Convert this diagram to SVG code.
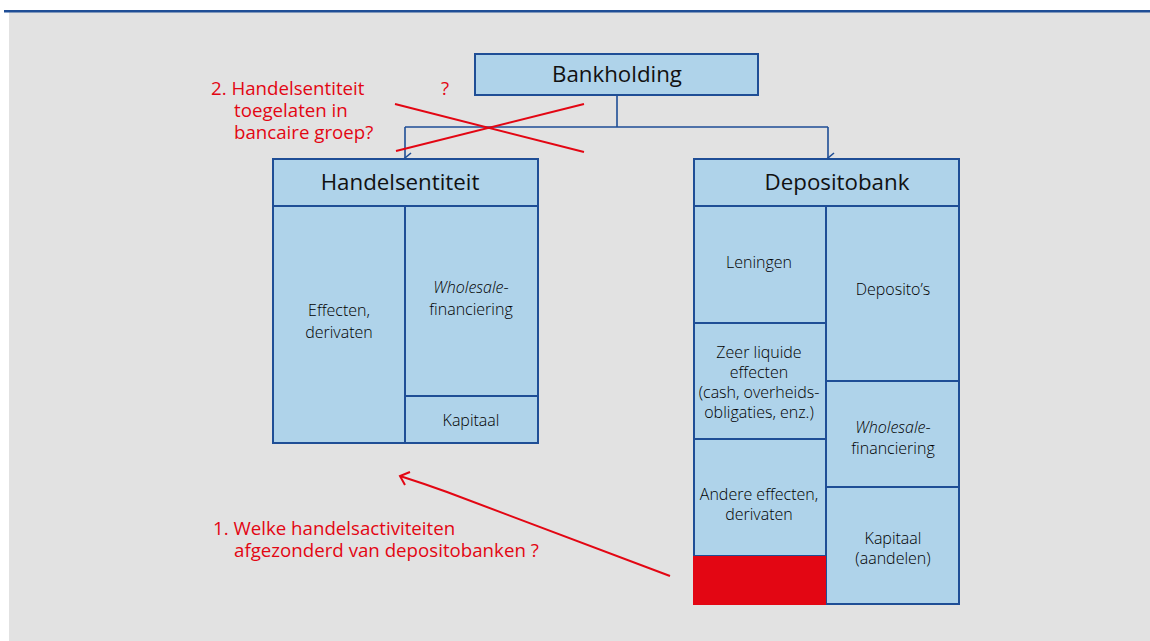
<svg xmlns="http://www.w3.org/2000/svg" width="1150" height="641" viewBox="0 0 1150 641">
<style>
.box{fill:#afd3ea;stroke:#1f4e96;stroke-width:2}
.div{stroke:#1f4e96;stroke-width:2;fill:none}
.hdr{font-family:"Open Sans","Noto Sans",sans-serif;font-size:22.3px;fill:#111;text-anchor:middle}
.cell{font-family:"Open Sans","Noto Sans",sans-serif;font-size:16px;font-weight:300;fill:#000;text-anchor:middle}
.red{font-family:"Open Sans","Noto Sans",sans-serif;font-size:18.7px;fill:#e30613}
.conn{stroke:#1f4e96;stroke-width:1.6;fill:none}
.rl{stroke:#e30613;stroke-width:2;fill:none}
</style>
<defs>
<marker id="ab" markerWidth="12" markerHeight="10" refX="6" refY="8" orient="auto" markerUnits="userSpaceOnUse" viewBox="0 0 12 10">
<path d="M1,2 L6,8 L11,2" fill="none" stroke="#1f4e96" stroke-width="1.6"/>
</marker>
</defs>
<rect x="0" y="0" width="1150" height="641" fill="#ffffff"/>
<rect x="9" y="12" width="1141" height="629" fill="#e2e2e2"/>
<rect x="4" y="10" width="1146" height="2.5" fill="#1f4e96"/>

<g id="connectors">
<path class="conn" d="M617,95 V127 M405,127 H828"/>
<path class="conn" d="M405,127 V158" marker-end="url(#ab)"/>
<path class="conn" d="M828,127 V158" marker-end="url(#ab)"/>
</g>

<g id="bankholding">
<rect class="box" x="475" y="54" width="283" height="41"/>
<text class="hdr" x="617" y="82">Bankholding</text>
</g>

<g id="handelsentiteit">
<rect class="box" x="273" y="159" width="265" height="284"/>
<path class="div" d="M273,206 H538 M405,206 V443 M405,396 H538"/>
<text class="hdr" x="400" y="190">Handelsentiteit</text>
<text class="cell" x="339" y="316">Effecten,</text>
<text class="cell" x="339" y="338">derivaten</text>
<text class="cell" x="471" y="293"><tspan font-style="italic">Wholesale</tspan>-</text>
<text class="cell" x="471" y="315">financiering</text>
<text class="cell" x="471" y="426">Kapitaal</text>
</g>

<g id="depositobank">
<rect class="box" x="694" y="159" width="265" height="445"/>
<path class="div" d="M694,206 H959 M826,206 V604 M694,323 H826 M694,439 H826 M694,556 H826 M826,381 H959 M826,487 H959"/>
<rect x="693" y="556" width="133" height="49" fill="#e30613"/>
<text class="hdr" x="837" y="190">Depositobank</text>
<text class="cell" x="759" y="268">Leningen</text>
<text class="cell" x="893" y="295">Deposito’s</text>
<text class="cell" x="759" y="358">Zeer liquide</text>
<text class="cell" x="759" y="378">effecten</text>
<text class="cell" x="759" y="398">(cash, overheids-</text>
<text class="cell" x="759" y="418">obligaties, enz.)</text>
<text class="cell" x="893" y="433"><tspan font-style="italic">Wholesale</tspan>-</text>
<text class="cell" x="893" y="454">financiering</text>
<text class="cell" x="759" y="500">Andere effecten,</text>
<text class="cell" x="759" y="520">derivaten</text>
<text class="cell" x="893" y="544">Kapitaal</text>
<text class="cell" x="893" y="564">(aandelen)</text>
</g>

<g id="annotation2">
<text class="red" x="211" y="95">2. Handelsentiteit</text>
<text class="red" x="234" y="117">toegelaten in</text>
<text class="red" x="234" y="139">bancaire groep?</text>
<text class="red" x="441" y="95">?</text>
<path class="rl" d="M395,104 L584,152 M584,104 L396,151"/>
</g>

<g id="annotation1">
<path class="rl" d="M670,576 L447,492 Q425,484 400,476"/>
<path class="rl" d="M410,472 L400,476 L405,485"/>
<text class="red" x="213" y="535">1. Welke handelsactiviteiten</text>
<text class="red" x="234" y="557">afgezonderd van depositobanken ?</text>
</g>
</svg>
